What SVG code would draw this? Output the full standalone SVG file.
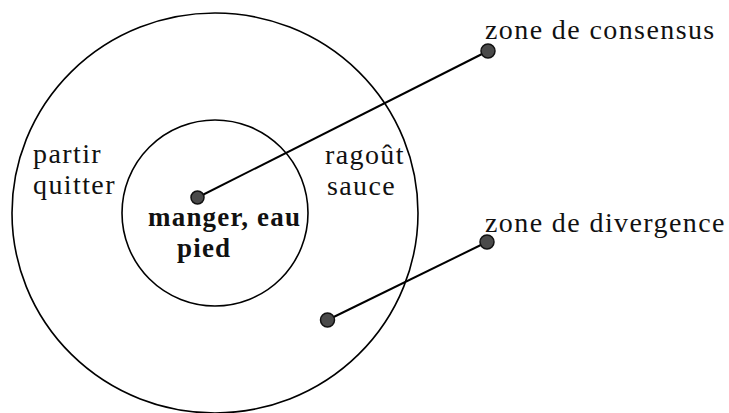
<svg xmlns="http://www.w3.org/2000/svg" width="729" height="413" viewBox="0 0 729 413">
<style>
.ring{fill:none;stroke:#000;stroke-width:1.6}
.lbl{font-family:"Liberation Serif","Times New Roman",serif;font-size:28px;letter-spacing:1.4px;fill:#111}
.bold{font-weight:bold;font-size:27px;letter-spacing:1.2px}
.conn{stroke:#000;stroke-width:2;fill:none}
.dot{fill:#4a4a4a;stroke:#111;stroke-width:1.5}
</style>
<rect width="729" height="413" fill="#fff"/>
<g id="outer-zone">
<ellipse class="ring" cx="215" cy="213" rx="203" ry="200"/>
<text class="lbl" x="33" y="163">partir</text>
<text class="lbl" x="33" y="194">quitter</text>
<text class="lbl" x="325" y="164">ragoût</text>
<text class="lbl" x="327" y="195">sauce</text>
</g>
<g id="inner-zone">
<circle class="ring" cx="215" cy="213" r="93"/>
<text class="lbl bold" x="148" y="226">manger, eau</text>
<text class="lbl bold" x="177" y="257">pied</text>
</g>
<g id="label-consensus">
<text class="lbl" x="485" y="39">zone de consensus</text>
</g>
<g id="label-divergence">
<text class="lbl" x="485" y="232">zone de divergence</text>
</g>
<g id="connectors">
<line class="conn" x1="197.5" y1="197.5" x2="488" y2="51"/>
<line class="conn" x1="327.5" y1="320" x2="487" y2="242"/>
<circle class="dot" cx="197.5" cy="197.5" r="6.5"/>
<circle class="dot" cx="488" cy="51" r="7"/>
<circle class="dot" cx="487" cy="242" r="7"/>
<circle class="dot" cx="327.5" cy="320" r="7"/>
</g>
</svg>
